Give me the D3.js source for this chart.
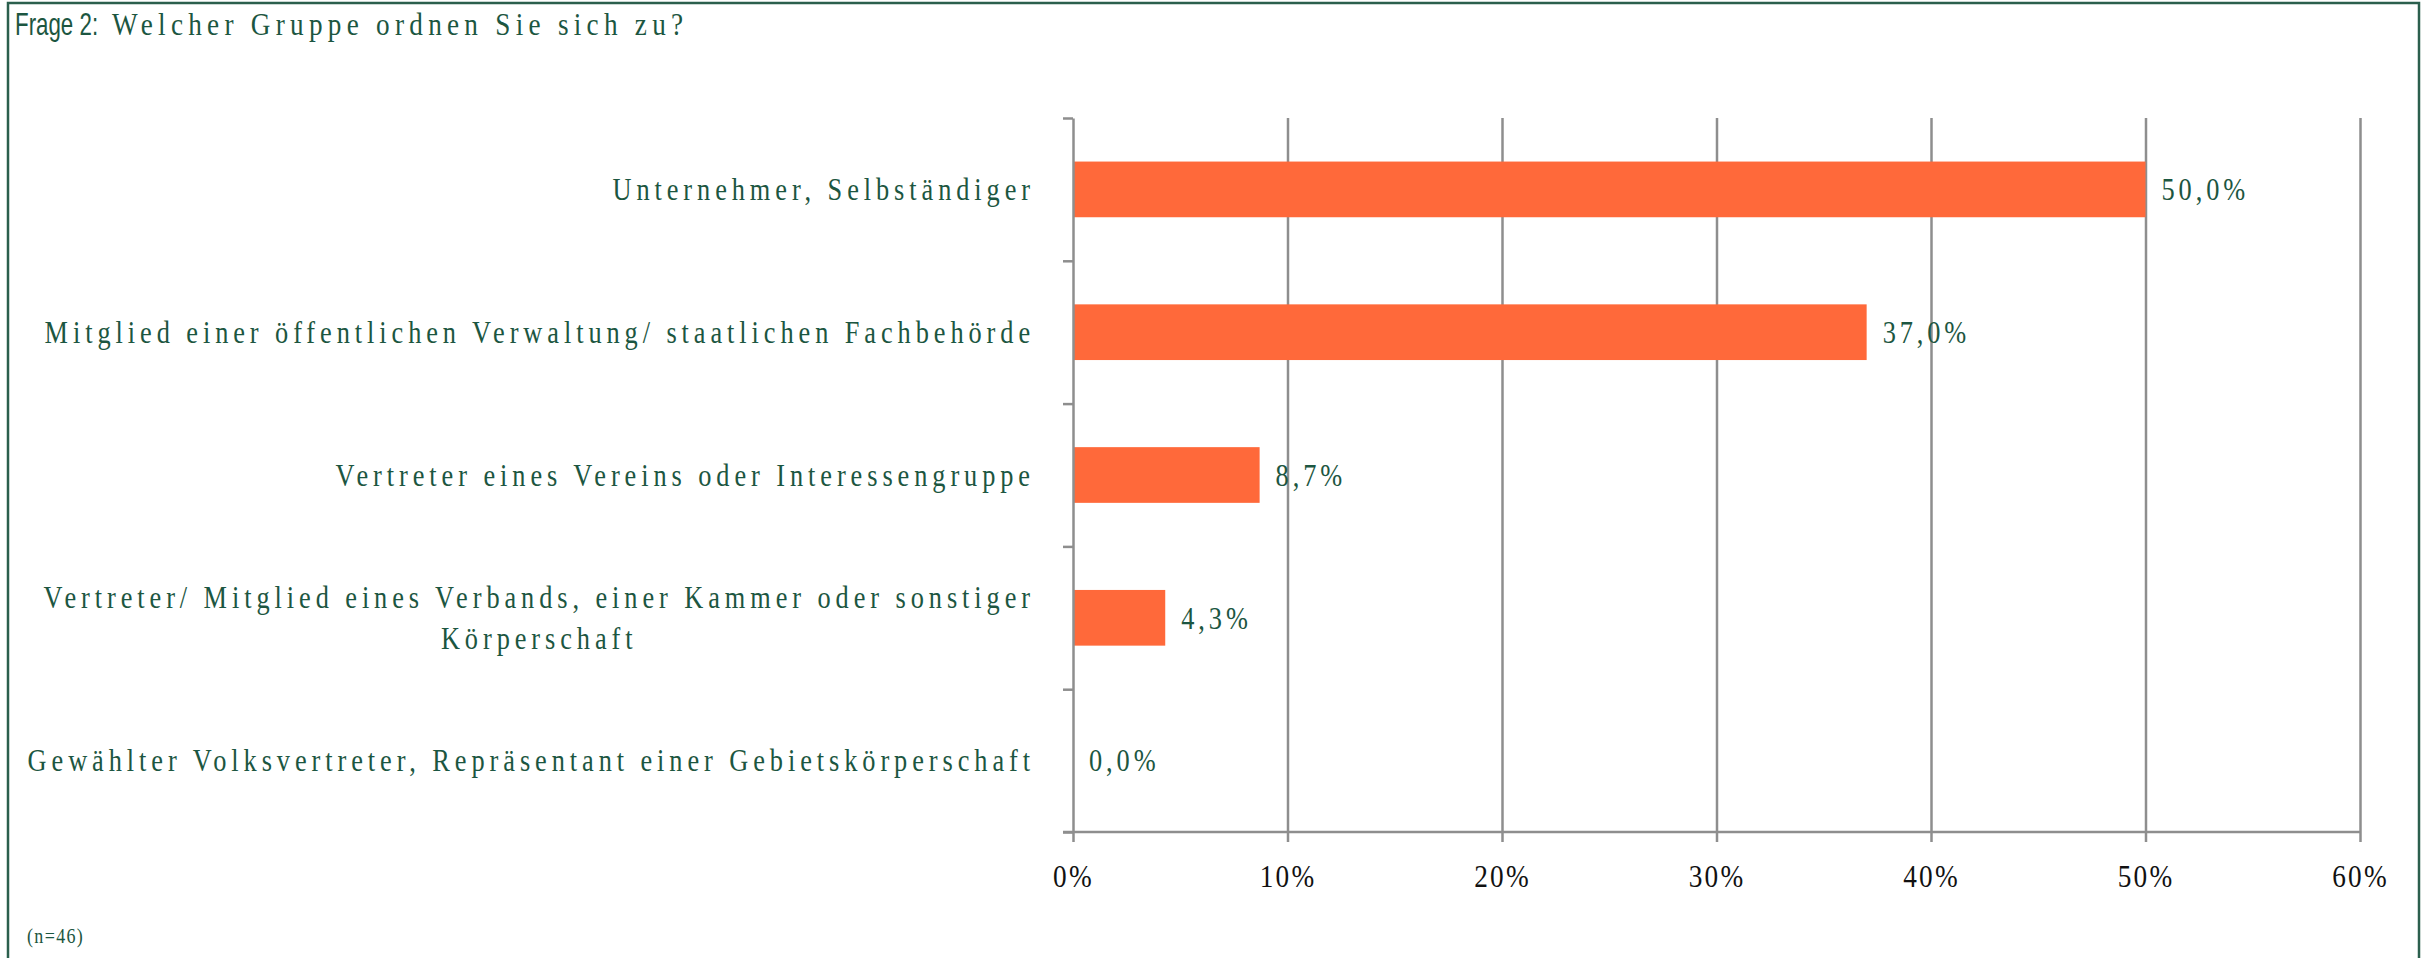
<!DOCTYPE html>
<html>
<head>
<meta charset="utf-8">
<script src="https://cdn.jsdelivr.net/npm/d3@7"></script>
<style>
    html, body { margin: 0; padding: 0; background: #ffffff; }
    svg { display: block; }
</style>
</head>
<body>
<div id="chart"></div>
<script>
"use strict"

// --- data ---
const titleLead = "Frage 2:"
const titleText = "Welcher Gruppe ordnen Sie sich zu?"
const footNote = "(n=46)"

const categories = [
    ["Unternehmer, Selbständiger"],
    ["Mitglied einer öffentlichen Verwaltung/ staatlichen Fachbehörde"],
    ["Vertreter eines Vereins oder Interessengruppe"],
    ["Vertreter/ Mitglied eines Verbands, einer Kammer oder sonstiger", "Körperschaft"],
    ["Gewählter Volksvertreter, Repräsentant einer Gebietskörperschaft"]
]
const values = [50.0, 37.0, 8.7, 4.3, 0.0]
const xTicks = [0, 10, 20, 30, 40, 50, 60]


const W = 2430, H = 958
const margin = { top: 118, right: 70, bottom: 126, left: 1073 }
const innerW = 1287
const innerH = H - margin.top - margin.bottom

const GREEN = "#1c5641"
const GRID = "#8e8e8e"
const BAR = "#ff693a"
const SERIF = "'Liberation Serif', 'Times New Roman', serif"
const SANS = "'Liberation Sans', Arial, sans-serif"
const SX = 0.85   // the source text is drawn condensed

const de = d3.formatLocale({ decimal: ",", thousands: ".", grouping: [3], currency: ["", " €"] })
const fmtVal = d => de.format(".1f")(d) + "%"

// text placed at (x, y) and squeezed horizontally
function condensed(parent, x, y, str, opt) {
    const wrap = parent.append("g").attr("transform", `translate(${x},${y})`)
    const t = wrap.append("text")
        .attr("transform", `scale(${opt.sx || SX},1)`)
        .attr("font-family", opt.family || SERIF)
        .attr("font-size", opt.size)
        .attr("letter-spacing", opt.spacing || 0)
        .attr("fill", opt.fill || GREEN)
        .attr("text-anchor", opt.anchor || "start")
        .attr("dy", opt.dy || null)
        .text(str)
    return t
}

const svg = d3.select("#chart").append("svg")
    .attr("width", W)
    .attr("height", H)

// frame
svg.append("rect")
    .attr("x", 8).attr("y", 3)
    .attr("width", 2411).attr("height", H + 20)
    .attr("fill", "none")
    .attr("stroke", "#2b5f4d")
    .attr("stroke-width", 2.5)

// title
condensed(svg, 15, 35, titleLead, { family: SANS, size: 31, sx: 0.72 })
condensed(svg, 112, 35, titleText, { size: 32, spacing: 6.2 })

const g = svg.append("g")
    .attr("transform", `translate(${margin.left},${margin.top})`)

const x = d3.scaleLinear().domain([0, 60]).range([0, innerW])

const y = d3.scaleBand()
    .domain(d3.range(categories.length))
    .range([0, innerH])
    .paddingInner(0.61)
    .paddingOuter(0.305)

// boundaries between categories for the left ticks
const yEdge = d3.scaleLinear().domain([0, categories.length]).range([0, innerH])

// vertical grid
g.append("g")
    .attr("class", "grid")
    .attr("transform", `translate(0,${innerH})`)
    .call(d3.axisBottom(x).tickValues(xTicks.slice(1)).tickSize(-innerH).tickFormat(""))
    .call(s => s.select(".domain").remove())
    .call(s => s.selectAll("line").attr("stroke", GRID).attr("stroke-width", 2.5))

// bars
g.selectAll("rect.bar")
    .data(values)
    .join("rect")
    .attr("class", "bar")
    .attr("x", 0)
    .attr("y", (d, i) => y(i))
    .attr("width", d => x(d))
    .attr("height", y.bandwidth())
    .attr("fill", BAR)

// left axis (category separators)
g.append("g")
    .call(d3.axisLeft(yEdge).tickValues(d3.range(categories.length + 1)).tickSize(10).tickSizeOuter(0).tickFormat(""))
    .call(s => s.select(".domain").attr("stroke", GRID).attr("stroke-width", 2.5))
    .call(s => s.selectAll("line").attr("stroke", GRID).attr("stroke-width", 2.5))

// bottom axis
g.append("g")
    .attr("transform", `translate(0,${innerH})`)
    .call(d3.axisBottom(x).tickValues(xTicks).tickSize(10).tickSizeOuter(0).tickPadding(23).tickFormat(d => d + "%"))
    .call(s => s.select(".domain").attr("stroke", GRID).attr("stroke-width", 2.5).attr("d", `M-10,0H${innerW}`))
    .call(s => s.selectAll("line").attr("stroke", GRID).attr("stroke-width", 2.5))
    .call(s => s.selectAll("text")
        .attr("transform", "scale(0.88,1)")
        .attr("font-family", SERIF)
        .attr("font-size", 31)
        .attr("letter-spacing", 2.5)
        .attr("fill", "#111"))

// value labels
values.forEach((v, i) => {
    condensed(g, x(v) + 16, y(i) + y.bandwidth() / 2, fmtVal(v),
        { size: 31, spacing: 4.6, dy: "0.35em" })
})

// category labels, right aligned block, lines centred on each other
const labelRight = -38
const lineH = 41
categories.forEach((lines, i) => {
    const cy = y(i) + y.bandwidth() / 2
    const off = k => (k - (lines.length - 1) / 2) * lineH
    if (lines.length == 1) {
        condensed(g, labelRight, cy, lines[0], { size: 31, spacing: 5.8, anchor: "end", dy: "0.35em" })
    } else {
        const probe = lines.map((ln, k) => condensed(g, 0, 0, ln, { size: 31, spacing: 5.8 }))
        const maxW = d3.max(probe, t => t.node().getComputedTextLength()) * SX
        probe.forEach(t => t.node().parentNode.remove())
        lines.forEach((ln, k) => {
            condensed(g, labelRight - maxW / 2, cy + off(k), ln,
                { size: 31, spacing: 5.8, anchor: "middle", dy: "0.35em" })
        })
    }
})

// sample size note
condensed(svg, 27, 943, footNote, { size: 20, spacing: 1.5, sx: 0.9 })
</script>
</body>
</html>
